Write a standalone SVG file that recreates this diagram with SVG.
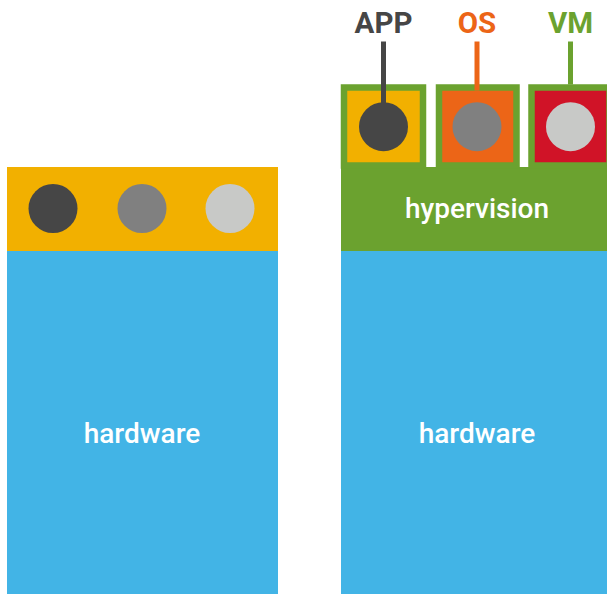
<svg xmlns="http://www.w3.org/2000/svg" width="607" height="594" viewBox="0 0 607 594">
<style>
.lbl{font-family:Roboto,"Liberation Sans",sans-serif;font-size:28px;font-weight:500;fill:#ffffff;text-anchor:middle}
.top{font-family:Roboto,"Liberation Sans",sans-serif;font-size:29.5px;font-weight:bold;text-anchor:middle}
.dark{fill:#464646}.mid{fill:#808080}.light{fill:#c8c9c7}
.blue{fill:#42b4e6}.green{fill:#6ba22f}
</style>
<rect width="607" height="594" fill="#ffffff"/>
<g id="left-stack">
  <rect class="blue" x="7" y="251" width="271" height="343"/>
  <rect x="7" y="167" width="271" height="84" fill="#f2b000"/>
  <circle class="dark" cx="53" cy="208.5" r="24.5"/>
  <circle class="mid" cx="142" cy="208.5" r="24.5"/>
  <circle class="light" cx="230" cy="208.5" r="24.5"/>
  <text class="lbl" x="142" y="442.5">hardware</text>
</g>
<g id="right-hardware">
  <rect class="blue" x="341" y="251" width="266" height="343"/>
  <text class="lbl" x="477" y="442.5">hardware</text>
</g>
<g id="hypervision">
  <rect class="green" x="341" y="167" width="266" height="84"/>
  <text class="lbl" x="477" y="218">hypervision</text>
</g>
<g id="vm-app">
  <rect x="344" y="87.5" width="79" height="78" fill="#f2b000" stroke="#6ba22f" stroke-width="6.5"/>
  <circle class="dark" cx="383.5" cy="126.7" r="24.5"/>
</g>
<g id="vm-os">
  <rect x="439" y="87.5" width="77.5" height="78" fill="#ec6517" stroke="#6ba22f" stroke-width="6.5"/>
  <circle class="mid" cx="477" cy="126.7" r="24.5"/>
</g>
<g id="vm-vm">
  <rect x="531.5" y="87.5" width="78" height="78" fill="#d01327" stroke="#6ba22f" stroke-width="6.5"/>
  <circle class="light" cx="570.5" cy="126.7" r="24.5"/>
</g>
<g id="connectors" stroke-width="5" fill="none">
  <line x1="383.5" y1="41.5" x2="383.5" y2="110" stroke="#464646"/>
  <line x1="477" y1="41.5" x2="477" y2="90.5" stroke="#ec6517"/>
  <line x1="570.5" y1="41.5" x2="570.5" y2="84.5" stroke="#6ba22f"/>
</g>
<g id="labels">
  <text class="top" x="383.5" y="33.3" fill="#464646">APP</text>
  <text class="top" x="477" y="33.3" fill="#ec6517">OS</text>
  <text class="top" x="570.5" y="33.3" fill="#6ba22f">VM</text>
</g>
</svg>
